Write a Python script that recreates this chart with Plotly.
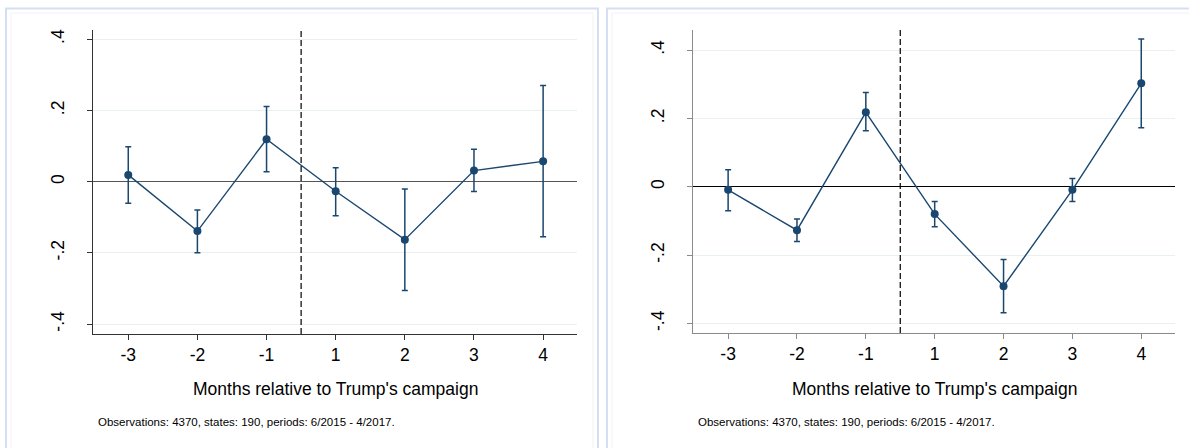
import plotly.graph_objects as go

# ---- data ----
months = ["-3", "-2", "-1", "1", "2", "3", "4"]
positions = [1, 2, 3, 4, 5, 6, 7]

left_est = [0.019, -0.139, 0.119, -0.027, -0.163, 0.031, 0.057]
left_hi = [0.098, -0.080, 0.211, 0.039, -0.021, 0.091, 0.270]
left_lo = [-0.061, -0.200, 0.028, -0.096, -0.306, -0.028, -0.155]

right_est = [-0.009, -0.127, 0.218, -0.080, -0.291, -0.009, 0.303]
right_hi = [0.050, -0.094, 0.276, -0.043, -0.213, 0.024, 0.433]
right_lo = [-0.070, -0.160, 0.164, -0.117, -0.369, -0.043, 0.173]

y_ticks = [-0.4, -0.2, 0, 0.2, 0.4]
y_ticktext = ["-.4", "-.2", "0", ".2", ".4"]

x_title = "Months relative to Trump's campaign"
note = "Observations: 4370, states: 190, periods: 6/2015 - 4/2017."

NAVY = "#1a476f"
FONT = "Liberation Sans, Arial, sans-serif"
W, H = 1189, 448

fig = go.Figure()


def add_series(est, hi, lo, xa, ya):
    fig.add_trace(go.Scatter(
        x=positions, y=est, xaxis=xa, yaxis=ya, mode="lines+markers",
        line=dict(color=NAVY, width=1.4),
        marker=dict(color=NAVY, size=8),
        error_y=dict(type="data", symmetric=False,
                     array=[h - e for h, e in zip(hi, est)],
                     arrayminus=[e - l for e, l in zip(est, lo)],
                     color=NAVY, thickness=1.5, width=3),
        showlegend=False, hoverinfo="skip"))


add_series(left_est, left_hi, left_lo, "x", "y")
add_series(right_est, right_hi, right_lo, "x2", "y2")


def px_x(p):
    return p / W


def px_y(p):
    return 1 - p / H


common_x = dict(tickvals=positions, ticktext=months, range=[0.49, 7.49],
                showgrid=False, zeroline=False, showline=True, linewidth=1.4,
                ticks="outside", ticklen=5, tickwidth=1.2,
                tickfont=dict(family=FONT, size=17.5, color="black"),
                fixedrange=True)
common_y = dict(tickvals=y_ticks, ticktext=y_ticktext, tickangle=-90,
                showgrid=True, gridcolor="#e8f0f2", gridwidth=1.2,
                zeroline=True, showline=True, linewidth=1.4,
                ticks="outside", ticklen=5, tickwidth=1.2,
                ticklabelstandoff=16,
                tickfont=dict(family=FONT, size=17.5, color="black"),
                fixedrange=True)

fig.update_layout(
    width=W, height=H,
    margin=dict(l=0, r=0, t=0, b=0),
    paper_bgcolor="white", plot_bgcolor="white",
    xaxis=dict(common_x, domain=[px_x(93), px_x(577)], anchor="y",
               linecolor="#333333", tickcolor="#333333"),
    yaxis=dict(common_y, domain=[px_y(334), px_y(30)], anchor="x",
               range=[-0.428, 0.426], linecolor="#333333", tickcolor="#333333",
               zerolinecolor="#555555", zerolinewidth=1.4),
    xaxis2=dict(common_x, domain=[px_x(693), px_x(1175)], anchor="y2",
                linecolor="#8a8a8a", tickcolor="#8a8a8a"),
    yaxis2=dict(common_y, domain=[px_y(333), px_y(30)], anchor="x2",
                range=[-0.428, 0.459], linecolor="#8a8a8a", tickcolor="#8a8a8a",
                zerolinecolor="#000000", zerolinewidth=1.4),
)

# vertical dashed lines at campaign start (between -1 and 1)
for xr, yr in [("x", "y domain"), ("x2", "y2 domain")]:
    fig.add_shape(type="line", xref=xr, yref=yr, x0=3.5, x1=3.5, y0=0, y1=1,
                  line=dict(color="black", width=1.2, dash="6px,3px"))

# panel frames
frames = [(6, 598), (607, 1195)]
for x0, x1 in frames:
    fig.add_shape(type="rect", xref="paper", yref="paper",
                  x0=px_x(x0), x1=px_x(x1), y0=px_y(455), y1=px_y(8.5),
                  line=dict(color="#d5dff4", width=2), layer="below")
    fig.add_shape(type="rect", xref="paper", yref="paper",
                  x0=px_x(x0 + 5), x1=px_x(x1 - 5), y0=px_y(455), y1=px_y(13),
                  line=dict(color="#f1f2f5", width=1), layer="below")

# axis titles and notes
for cx, nx in [((93 + 577) / 2, 96), ((693 + 1175) / 2, 696)]:
    fig.add_annotation(xref="paper", yref="paper", x=px_x(cx), y=px_y(389),
                       text=x_title, showarrow=False, xanchor="center",
                       yanchor="middle",
                       font=dict(family=FONT, size=17.5, color="black"))
    fig.add_annotation(xref="paper", yref="paper", x=px_x(nx), y=px_y(422),
                       text=note, showarrow=False, xanchor="left",
                       yanchor="middle",
                       font=dict(family=FONT, size=11.5, color="black"))

fig.write_html("out.html",
               config={"displayModeBar": False},
               post_script="document.body.style.margin='0';"
                           "document.body.style.overflow='hidden';")
